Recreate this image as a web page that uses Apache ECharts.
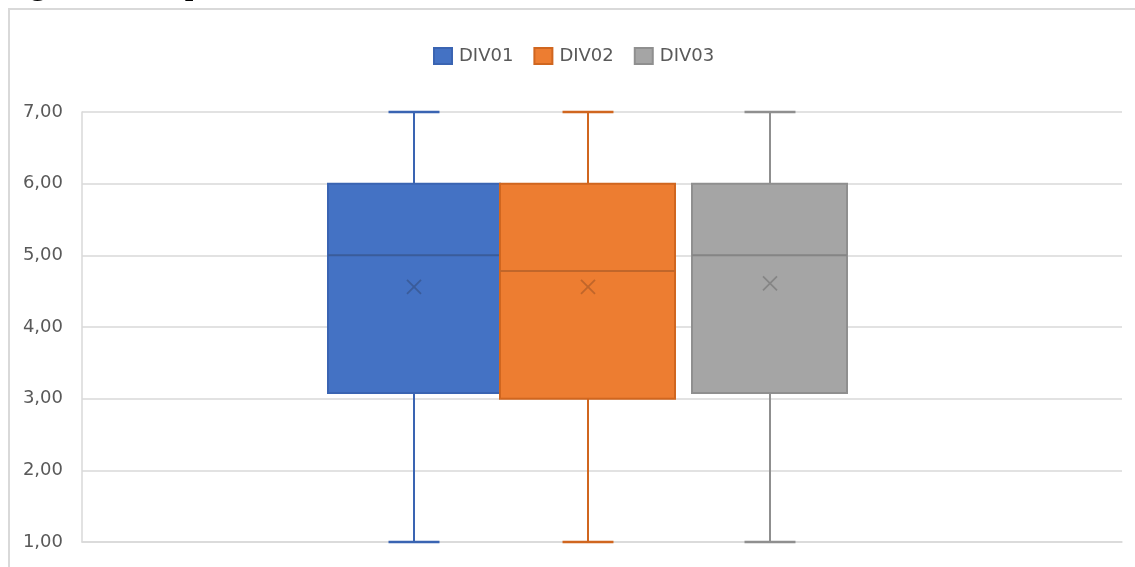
<!DOCTYPE html>
<html>
<head>
<meta charset="utf-8">
<script src="https://cdn.jsdelivr.net/npm/echarts@6/dist/echarts.min.js"></script>
<style>
	html, body { margin: 0; padding: 0; background: #fff; }
	#chart { width: 1135px; height: 567px; }
</style>
</head>
<body>
<div id="chart"></div>
<script>
	// data
	var groups = ['DIV01', 'DIV02', 'DIV03'];
	var mins = [1, 1, 1];
	var q1s = [3.08, 3.00, 3.08];
	var medians = [5.00, 4.78, 5.00];
	var q3s = [6, 6, 6];
	var maxs = [7, 7, 7];
	var means = [4.56, 4.56, 4.61];
	var yTicks = [1, 2, 3, 4, 5, 6, 7];

	// look
	var fills = ['#4472C4', '#ED7D31', '#A5A5A5'];
	var strokes = ['#3A64B2', '#D0661F', '#8F8F8F'];
	var marks = ['#3A5C9A', '#C0662A', '#858585'];
	// box position inside the single band, as a share of the band width
	var boxLeft = [-0.2635, -0.098, 0.0865];
	var boxRight = [-0.098, 0.070, 0.2356];
	var capShare = 0.049;

	var chart = echarts.init(document.getElementById('chart'));

	function makeRender(idx) {
		return function (params, api) {
			var band = api.size([1, 0])[0];
			var mid = api.coord([0, 0])[0];
			var x0 = Math.round(mid + boxLeft[idx] * band);
			var x1 = Math.round(mid + boxRight[idx] * band);
			var cx = Math.round((x0 + x1) / 2);
			var capHalf = capShare * band / 2;
			var y = function (v) { return api.coord([0, v])[1]; };
			var yMin = y(api.value(1)), yQ1 = y(api.value(2)), yMed = y(api.value(3));
			var yQ3 = y(api.value(4)), yMax = y(api.value(5)), yMean = y(api.value(6));
			var line = function (a, b, c, d, col, w) {
				return { type: 'line', shape: { x1: a, y1: b, x2: c, y2: d }, style: { stroke: col, lineWidth: w } };
			};
			var s = 7;
			return {
				type: 'group',
				children: [
					line(cx, yMax, cx, yQ3, strokes[idx], 2),
					line(cx, yQ1, cx, yMin, strokes[idx], 2),
					line(cx - capHalf, yMax, cx + capHalf, yMax, strokes[idx], 2.5),
					line(cx - capHalf, yMin, cx + capHalf, yMin, strokes[idx], 2.5),
					{
						type: 'rect',
						shape: { x: x0, y: yQ3, width: x1 - x0, height: yQ1 - yQ3 },
						style: { fill: fills[idx], stroke: strokes[idx], lineWidth: 2 }
					},
					line(x0, yMed, x1, yMed, marks[idx], 2),
					line(cx - s, yMean - s, cx + s, yMean + s, marks[idx], 1.8),
					line(cx - s, yMean + s, cx + s, yMean - s, marks[idx], 1.8)
				]
			};
		};
	}

	var series = [];
	for (var i = 0; i < groups.length; i++) {
		series.push({
			name: groups[i],
			type: 'custom',
			renderItem: makeRender(i),
			itemStyle: { color: fills[i], borderColor: strokes[i], borderWidth: 1.5 },
			encode: { x: 0, y: [1, 2, 3, 4, 5, 6] },
			data: [[0, mins[i], q1s[i], medians[i], q3s[i], maxs[i], means[i]]],
			silent: true
		});
	}

	var option = {
		backgroundColor: '#ffffff',
		animation: false,
		graphic: [{
			// chart frame, only top and left edges are inside the picture
			type: 'polyline',
			shape: { points: [[1135, 9], [9, 9], [9, 567]] },
			style: { fill: null, stroke: '#D9D9D9', lineWidth: 2 },
			z: -1
		}, {
			type: 'text',
			x: 0,
			y: -16,
			style: {
				text: 'Figure 1 Boxplot',
				font: '35px "Liberation Serif"',
				fill: '#000',
				verticalAlign: 'middle'
			}
		}],
		legend: {
			data: groups,
			left: 428,
			top: 42,
			icon: 'rect',
			itemWidth: 18,
			itemHeight: 16,
			itemGap: 20,
			textStyle: {
				color: '#595959',
				fontSize: 18,
				fontFamily: 'DejaVu Sans',
				padding: [0, 0, 0, 2]
			}
		},
		grid: {
			left: 82,
			right: 13,
			top: 112,
			bottom: 25
		},
		xAxis: {
			type: 'category',
			data: [''],
			axisLabel: { show: false },
			axisTick: { show: false },
			axisLine: { show: true, lineStyle: { color: '#D9D9D9', width: 1.5 } },
			splitLine: { show: false }
		},
		yAxis: {
			type: 'value',
			min: yTicks[0],
			max: yTicks[yTicks.length - 1],
			interval: 1,
			axisLabel: {
				color: '#595959',
				fontSize: 18,
				fontFamily: 'DejaVu Sans',
				margin: 19,
				formatter: function (v) {
					return v.toFixed(2).replace('.', ',');
				}
			},
			axisTick: { show: false },
			axisLine: { show: true, lineStyle: { color: '#D9D9D9', width: 1.5 } },
			splitLine: { show: true, lineStyle: { color: '#D9D9D9', width: 1.5 } }
		},
		series: series
	};
	chart.setOption(option);
</script>
</body>
</html>
